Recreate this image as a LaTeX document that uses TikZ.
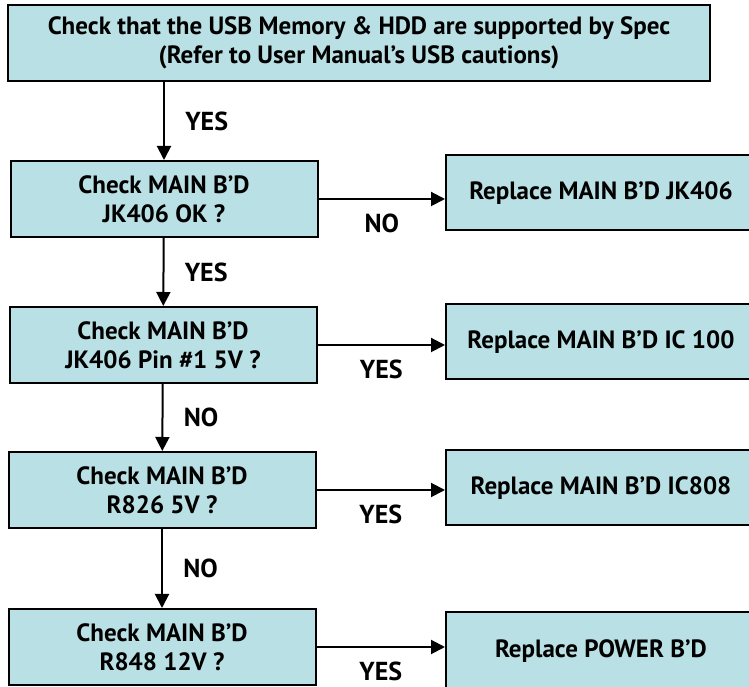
\documentclass[tikz,border=0pt]{standalone}
\usepackage{fontspec}
\setmainfont{PT Sans}
\usetikzlibrary{arrows.meta}
\definecolor{boxfill}{RGB}{185,224,228}
\tikzset{
  box/.style={draw, line width=2pt, fill=boxfill, align=center, inner sep=0pt,
    font=\bfseries\fontsize{25}{29}\selectfont},
  chkbox/.style={box, minimum width=307pt, minimum height=76pt},
  repbox/.style={box, minimum width=310pt, minimum height=75pt},
  flow/.style={-{Triangle[length=14pt,width=14pt]}, line width=2pt},
  lab/.style={font=\bfseries\fontsize{26}{28}\selectfont},
}

\begin{document}
\begin{tikzpicture}[x=1pt,y=1pt]
  \clip (0,0) rectangle (749,687);
  % left column
  \node[box, minimum width=702pt, minimum height=76pt] (spec) at (359,644)
    {Check that the USB Memory \& HDD are supported by Spec\\(Refer to User Manual’s USB cautions)};
  \node[chkbox] (jack) at (164,488) {Check MAIN B’D\\JK406 OK ?};
  \node[chkbox] (pin) at (163,342) {Check MAIN B’D\\JK406 Pin \#1 5V ?};
  \node[chkbox] (rfive) at (162,197) {Check MAIN B’D\\R826 5V ?};
  \node[chkbox] (rtwelve) at (162,40) {Check MAIN B’D\\R848 12V ?};
  % right column
  \node[repbox] (newjack) at (601,494) {Replace MAIN B’D JK406};
  \node[repbox] (newic) at (601,345) {Replace MAIN B’D IC 100};
  \node[repbox] (newreg) at (601,199) {Replace MAIN B’D IC808};
  \node[repbox, minimum height=77pt] (newpsu) at (601,36) {Replace POWER B’D};
  % down
  \draw[flow] (spec.south -| jack) -- node[lab, right=17pt] {YES} (jack);
  \draw[flow] (jack) -- node[lab, right=17pt] {YES} (pin);
  \draw[flow] (pin) -- node[lab, right=17pt] {NO} (rfive);
  \draw[flow] (rfive) -- node[lab, right=17pt] {NO} (rtwelve);
  % across
  \draw[flow] (jack.east) -- node[lab, below=11pt] {NO} (jack.east -| newjack.west);
  \draw[flow] (pin.east) -- node[lab, below=11pt] {YES} (pin.east -| newic.west);
  \draw[flow] (rfive.east) -- node[lab, below=11pt] {YES} (rfive.east -| newreg.west);
  \draw[flow] (rtwelve.east) -- node[lab, below=11pt] {YES} (rtwelve.east -| newpsu.west);
\end{tikzpicture}
\end{document}
